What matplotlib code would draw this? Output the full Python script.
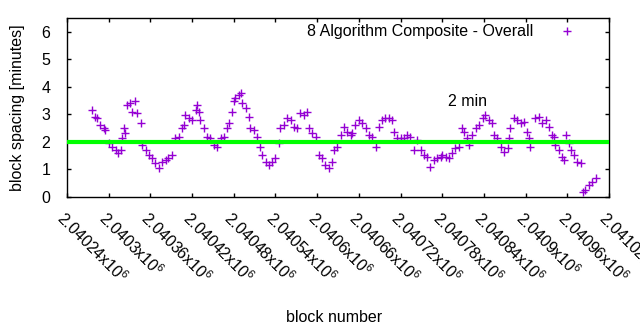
import numpy as np
import matplotlib.pyplot as plt

plt.rcParams['font.family'] = ['Liberation Sans', 'DejaVu Sans']
plt.rcParams['font.size'] = 11.5
plt.rcParams['mathtext.fontset'] = 'custom'
plt.rcParams['mathtext.rm'] = 'Liberation Sans'

# block height vs. rolling block spacing (minutes)
blocks = [
    2040276, 2040281, 2040283, 2040288, 2040293, 2040295, 2040300, 2040305,
    2040310, 2040314, 2040317, 2040319, 2040322, 2040324, 2040326, 2040331,
    2040334, 2040338, 2040341, 2040346, 2040348, 2040353, 2040358, 2040362,
    2040367, 2040372, 2040377, 2040382, 2040386, 2040391, 2040396, 2040401,
    2040406, 2040408, 2040410, 2040415, 2040420, 2040425, 2040427, 2040430,
    2040432, 2040437, 2040442, 2040446, 2040451, 2040456, 2040461, 2040466,
    2040470, 2040473, 2040478, 2040480, 2040482, 2040487, 2040490, 2040492,
    2040497, 2040502, 2040504, 2040509, 2040514, 2040518, 2040521, 2040526,
    2040530, 2040535, 2040540, 2040545, 2040547, 2040552, 2040557, 2040562,
    2040566, 2040571, 2040576, 2040581, 2040586, 2040588, 2040593, 2040598,
    2040602, 2040607, 2040612, 2040617, 2040622, 2040624, 2040629, 2040634,
    2040638, 2040643, 2040648, 2040650, 2040655, 2040660, 2040665, 2040670,
    2040674, 2040679, 2040684, 2040689, 2040694, 2040698, 2040703, 2040708,
    2040710, 2040715, 2040720, 2040725, 2040730, 2040734, 2040739, 2040744,
    2040749, 2040754, 2040758, 2040763, 2040768, 2040773, 2040778, 2040780,
    2040785, 2040790, 2040794, 2040799, 2040804, 2040809, 2040811, 2040816,
    2040818, 2040823, 2040828, 2040833, 2040838, 2040842, 2040847, 2040852,
    2040854, 2040859, 2040864, 2040869, 2040874, 2040876, 2040878, 2040883,
    2040888, 2040893, 2040898, 2040902, 2040905, 2040907, 2040914, 2040919,
    2040924, 2040929, 2040934, 2040938, 2040941, 2040943, 2040948, 2040953,
    2040955, 2040958, 2040962, 2040965, 2040970, 2040974, 2040979, 2040982,
    2040986, 2040991, 2040996, 2041001,
]
spacing = [
    3.16, 2.92, 2.86, 2.62, 2.50, 2.44, 1.95, 1.83,
    1.71, 1.59, 1.71, 2.13, 2.50, 2.32, 3.35, 3.41,
    3.10, 3.47, 3.04, 2.68, 1.89, 1.71, 1.53, 1.41,
    1.23, 1.04, 1.28, 1.35, 1.41, 1.53, 2.13, 2.19,
    2.50, 2.62, 2.98, 2.86, 2.80, 3.16, 3.35, 3.10,
    2.80, 2.50, 2.19, 2.13, 1.89, 1.83, 2.13, 2.19,
    2.50, 2.68, 3.10, 3.47, 3.59, 3.71, 3.77, 3.41,
    3.23, 2.92, 2.50, 2.44, 2.19, 1.83, 1.53, 1.28,
    1.16, 1.28, 1.41, 1.95, 2.50, 2.62, 2.86, 2.80,
    2.56, 2.50, 3.04, 2.98, 3.10, 2.50, 2.32, 2.19,
    1.53, 1.41, 1.16, 1.04, 1.28, 1.71, 1.83, 2.25,
    2.56, 2.37, 2.25, 2.32, 2.62, 2.80, 2.68, 2.50,
    2.25, 2.19, 1.83, 2.56, 2.80, 2.86, 2.86, 2.80,
    2.37, 2.13, 2.13, 2.13, 2.25, 2.19, 1.71, 2.07,
    1.71, 1.53, 1.47, 1.10, 1.35, 1.41, 1.47, 1.53,
    1.47, 1.41, 1.59, 1.77, 1.83, 2.50, 2.37, 2.13,
    1.89, 2.25, 2.50, 2.62, 2.86, 2.98, 2.80, 2.68,
    2.25, 2.13, 1.83, 1.65, 1.77, 2.13, 2.50, 2.86,
    2.80, 2.68, 2.74, 2.37, 2.13, 1.83, 2.86, 2.92,
    2.68, 2.80, 2.56, 2.25, 2.19, 1.89, 1.71, 1.47,
    1.35, 2.25, 1.95, 1.71, 1.53, 1.28, 1.23, 0.19,
    0.25, 0.44, 0.56, 0.68,
]

target = 2.0
xticks = list(range(2040240, 2041021, 60))
yticks = [0, 1, 2, 3, 4, 5, 6]
series_label = "8 Algorithm Composite - Overall"


def tick_label(v):
    return ("%.5f" % (v / 1e6)).rstrip('0') + r"x10$^{6}$"


fig = plt.figure(figsize=(6.4, 3.3), dpi=100)
ax = fig.add_axes([67/640, 133/330, 542/640, 179/330])

ax.plot(blocks, spacing, linestyle='none', marker='+', ms=5.5, mew=1,
        color='#9400d3', label=series_label, zorder=2)
ax.axhline(target, color='#00ff00', lw=3, zorder=3)
ax.text(2040788, 3.45, "2 min", va='center', ha='left')

ax.set_xlim(xticks[0], xticks[-1])
ax.set_ylim(0, 6.5)
ax.set_xticks(xticks)
ax.set_xticklabels([tick_label(v) for v in xticks], rotation=-45,
                   rotation_mode='anchor', ha='left', va='top')
ax.set_yticks(yticks)
ax.tick_params(direction='in', length=3, width=1, top=True, right=True)
ax.tick_params(axis='y', pad=12)
ax.tick_params(axis='x', pad=8)
for s in ax.spines.values():
    s.set_linewidth(1)

ax.set_xlabel("block number")
ax.set_ylabel("block spacing [minutes]")
ax.xaxis.set_label_coords(0.4926, -0.63)
ax.yaxis.set_label_coords(-0.078, 0.5)

ax.legend(loc='center right', bbox_to_anchor=(0.952, 0.922), frameon=False,
          markerfirst=False, borderaxespad=0, borderpad=0,
          handlelength=2, handletextpad=1.1)

fig.savefig("out.png", dpi=100)
